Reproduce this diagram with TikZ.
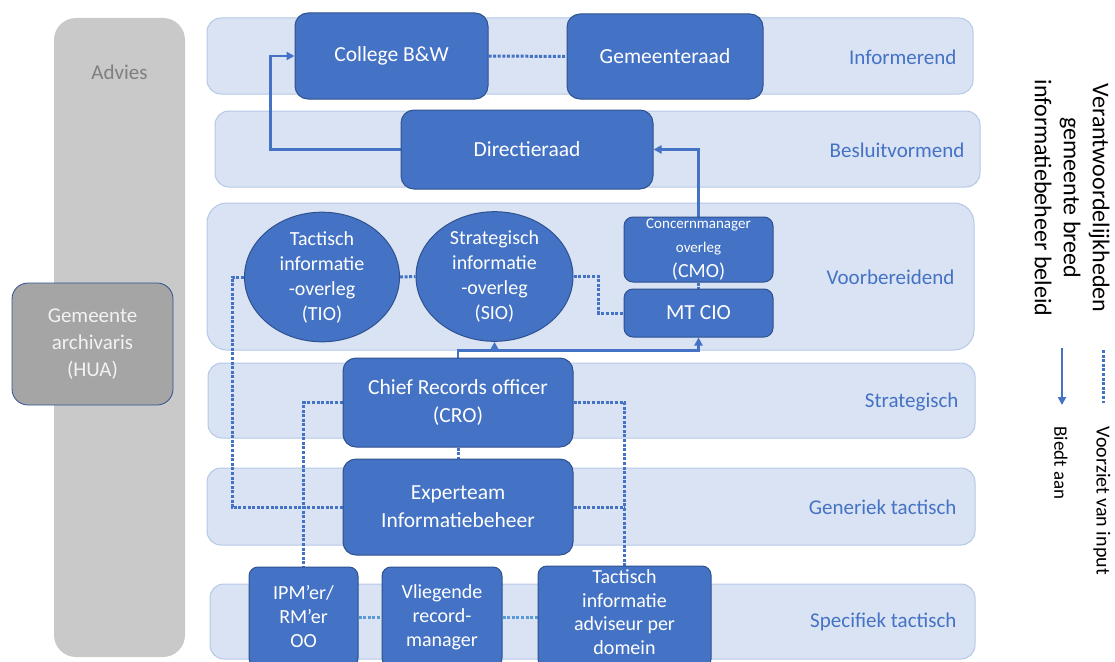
\documentclass[tikz,border=0pt]{standalone}
\usepackage{fontspec}
\setmainfont{Carlito}
\usetikzlibrary{arrows.meta,shapes.geometric,calc}

\definecolor{boxblue}{HTML}{4472C4}
\definecolor{boxedge}{HTML}{2F528F}
\definecolor{bandfill}{HTML}{DAE3F3}
\definecolor{bandedge}{HTML}{B4C7E7}
\definecolor{labelblue}{HTML}{4472C4}
\definecolor{advgray}{HTML}{C9C9C9}
\definecolor{archgray}{HTML}{A5A5A5}
\definecolor{advtext}{HTML}{7F7F7F}
\definecolor{dotlight}{HTML}{5B9BD5}

\pgfdeclarelayer{bands}
\pgfdeclarelayer{lines}
\pgfsetlayers{bands,lines,main}

\tikzset{
  band/.style={draw=bandedge, line width=1pt, fill=bandfill, rounded corners=14pt,
    inner sep=0pt},
  bandlabel/.style={anchor=east, text=labelblue, font=\fontsize{21}{25}\selectfont},
  role/.style={draw=boxedge, line width=1pt, fill=boxblue, rounded corners=13pt,
    inner sep=0pt, text=white, align=center, font=\fontsize{21.5}{28}\selectfont},
  smallrole/.style={role, rounded corners=9pt, font=\fontsize{20}{24}\selectfont},
  meeting/.style={ellipse, draw=boxedge, line width=1pt, fill=boxblue, inner sep=0pt,
    text=white, align=center, font=\fontsize{20}{25}\selectfont},
  dotline/.style={draw=boxblue, line width=3pt, dash pattern=on 3pt off 1.6pt},
  lightdot/.style={dotline, draw=dotlight},
  offers/.style={draw=boxblue, line width=2.3pt, -{Triangle[length=8pt,width=8pt]}},
  legendtext/.style={rotate=-90, text=black, align=center},
}

\begin{document}
\begin{tikzpicture}[x=1pt, y=-1pt]
\path[use as bounding box] (0,0) rectangle (1115,661);
\clip (0,0) rectangle (1115,661);

% advisory column with the municipal archivist
\node[fill=advgray, rounded corners=22pt, minimum width=131pt, minimum height=639pt,
  inner sep=0pt] (advies) at (119.5,337.5) {};
\node[text=advtext, font=\fontsize{21}{25}\selectfont] (adviestxt) at (119.5,72) {Advies};
\node[draw=boxedge, line width=0.8pt, fill=archgray, rounded corners=16pt,
  minimum width=161pt, minimum height=122pt, inner sep=0pt, text=white!95!black,
  align=center, font=\fontsize{21}{27}\selectfont] (archivaris) at (92.5,344)
  {Gemeente\\archivaris\\(HUA)};

% levels
\begin{pgfonlayer}{bands}
\node[band, minimum width=766pt, minimum height=76pt] (b1) at (590,56) {};
\node[band, minimum width=765pt, minimum height=76pt] (b2) at (597.5,149) {};
\node[band, minimum width=767pt, minimum height=147pt, rounded corners=20pt] (b3) at (590.5,276.5) {};
\node[band, minimum width=767pt, minimum height=75pt] (b4) at (591.5,400.5) {};
\node[band, minimum width=768pt, minimum height=77pt] (b5) at (591,506.5) {};
\node[band, minimum width=765pt, minimum height=75pt] (b6) at (592.5,621.5) {};
\end{pgfonlayer}

\node[bandlabel] (l1) at (960,57) {Informerend};
\node[bandlabel] (l2) at (968,150) {Besluitvormend};
\node[bandlabel] (l3) at (958,277) {Voorbereidend};
\node[bandlabel] (l4) at (962,402) {Strategisch};
\node[bandlabel] (l5) at (960,507) {Generiek tactisch};
\node[bandlabel] (l6) at (960,622) {Specifiek tactisch};

% roles and meetings
\node[role, minimum width=193pt, minimum height=86pt] (college) at (391.5,56) {College B\&W};
\node[role, minimum width=196pt, minimum height=85pt] (raad) at (665,56.5) {Gemeenteraad};
\node[role, minimum width=252pt, minimum height=79pt] (dir) at (527,149.5) {Directieraad};
\node[meeting, minimum width=155pt, minimum height=123pt] (tio) at (322,277)
  {Tactisch\\informatie\\-overleg\\(TIO)};
\node[meeting, minimum width=157pt, minimum height=119pt] (sio) at (494.5,276.5)
  {Strategisch\\informatie\\-overleg\\(SIO)};
\node[smallrole, minimum width=149pt, minimum height=65pt] (cmo) at (698.5,249.5)
  {\fontsize{15}{18}\selectfont Concernmanager\\\fontsize{15}{19}\selectfont overleg\\[1pt]\fontsize{20}{22}\selectfont (CMO)};
\node[smallrole, minimum width=149pt, minimum height=48pt,
  font=\fontsize{21.5}{26}\selectfont] (mtcio) at (698.5,313) {MT CIO};
\node[role, minimum width=230pt, minimum height=89pt] (cro) at (458,402.5)
  {Chief Records officer\\(CRO)};
\node[role, minimum width=230pt, minimum height=96pt] (exp) at (458,507)
  {Experteam\\Informatiebeheer};
\node[smallrole, minimum width=109pt, minimum height=100pt] (ipm) at (303.5,617)
  {IPM’er/\\RM’er\\OO};
\node[smallrole, minimum width=120pt, minimum height=100pt] (vlieg) at (442,617)
  {Vliegende\\record-\\manager};
\node[smallrole, minimum width=173pt, minimum height=102pt] (tact) at (624.5,617) {};
\node[text=white, align=center, font=\fontsize{20}{23.5}\selectfont, inner sep=0pt]
  (tacttxt) at (624.5,612) {Tactisch\\informatie\\adviseur per\\domein};

% connectors
\begin{pgfonlayer}{lines}
\draw[offers] (dir.west) -- ++(-130,0) |- (college.west);
\draw[offers] (cmo.north) |- (dir.east);
\draw[dotline] (college.east) -- (raad.west);
\draw[dotline] (tio.east) -- (sio.west);
\draw[dotline] (sio.east) -- ++(25,0) |- (mtcio.west);
\draw[dotline] (cmo.south) -- (mtcio.north);
\draw[dotline] (tio.west) -- ++(-12,0) |- (exp.west);
\coordinate (split) at ($(cro.north)+(0,-7)$);
\draw[offers] (cro.north) -- (split) -| (mtcio.south);
\draw[offers] (split) -| (sio.south);
\draw[dotline] (cro.west) -| (ipm.north);
\draw[dotline] (cro.east) -| (tact.north);
\draw[dotline] (exp.east) -- (exp.east -| tact.north);
\draw[dotline] (cro.south) -- (exp.north);
\draw[lightdot] (ipm.east) -- (vlieg.west);
\draw[lightdot] (vlieg.east) -- (tact.west);
\end{pgfonlayer}

% legend
\node[legendtext, font=\fontsize{24}{29}\selectfont] (title) at (1072,198)
  {Verantwoordelijkheden\\gemeente breed\\informatiebeheer beleid};
\coordinate (inA) at (1103,350);
\coordinate (inB) at (1103,403);
\draw[dotline] (inA) -- (inB);
\coordinate (offA) at (1062,348);
\coordinate (offB) at (1062,405);
\draw[offers] (offA) -- (offB);
\node[legendtext, anchor=west, font=\fontsize{20}{24}\selectfont] (inputtxt) at (1102,423)
  {Voorziet van input};
\node[legendtext, anchor=west, font=\fontsize{19}{23}\selectfont] (offertxt) at (1061,423)
  {Biedt aan};
\end{tikzpicture}
\end{document}
